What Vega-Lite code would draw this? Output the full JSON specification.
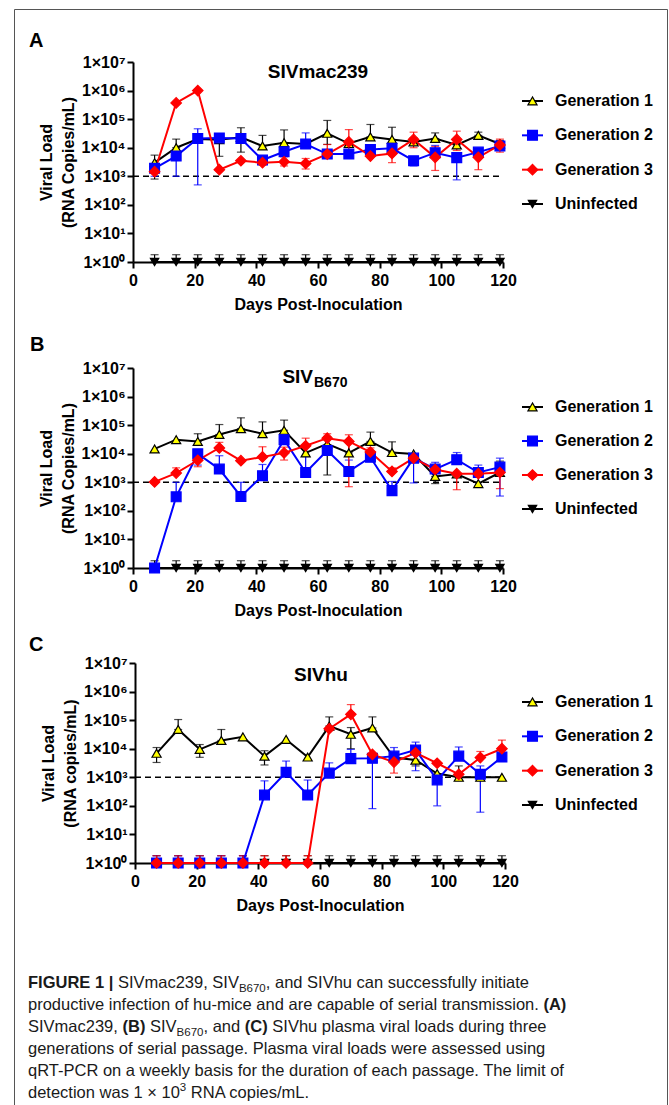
{
"$schema":"https://vega.github.io/schema/vega-lite/v6.json",
"width":653,"height":1100,
"autosize":{"type":"none"},
"padding":{"left":14,"top":9,"right":2,"bottom":0},
"background":"white",
"config":{"font":"Liberation Sans","view":{"stroke":"#555","strokeWidth":1},
 "axis":{"domainColor":"#000","domainWidth":2,"tickColor":"#000","tickWidth":2,"tickSize":6,"labelColor":"#000","labelFont":"Liberation Sans","labelFontWeight":"bold","labelFontSize":16,"titleColor":"#000","titleFont":"Liberation Sans","titleFontWeight":"bold","titleFontSize":16,"grid":false},
 "text":{"font":"Liberation Sans"}},
"datasets":{
"vals":[
{"p":"A","s":"U","d":7,"v":1},{"p":"A","s":"U","d":14,"v":1},{"p":"A","s":"U","d":21,"v":1},{"p":"A","s":"U","d":28,"v":1},{"p":"A","s":"U","d":35,"v":1},{"p":"A","s":"U","d":42,"v":1},{"p":"A","s":"U","d":49,"v":1},{"p":"A","s":"U","d":56,"v":1},{"p":"A","s":"U","d":63,"v":1},{"p":"A","s":"U","d":70,"v":1},{"p":"A","s":"U","d":77,"v":1},{"p":"A","s":"U","d":84,"v":1},{"p":"A","s":"U","d":91,"v":1},{"p":"A","s":"U","d":98,"v":1},{"p":"A","s":"U","d":105,"v":1},{"p":"A","s":"U","d":112,"v":1},{"p":"A","s":"U","d":119,"v":1},
{"p":"B","s":"U","d":7,"v":1},{"p":"B","s":"U","d":14,"v":1},{"p":"B","s":"U","d":21,"v":1},{"p":"B","s":"U","d":28,"v":1},{"p":"B","s":"U","d":35,"v":1},{"p":"B","s":"U","d":42,"v":1},{"p":"B","s":"U","d":49,"v":1},{"p":"B","s":"U","d":56,"v":1},{"p":"B","s":"U","d":63,"v":1},{"p":"B","s":"U","d":70,"v":1},{"p":"B","s":"U","d":77,"v":1},{"p":"B","s":"U","d":84,"v":1},{"p":"B","s":"U","d":91,"v":1},{"p":"B","s":"U","d":98,"v":1},{"p":"B","s":"U","d":105,"v":1},{"p":"B","s":"U","d":112,"v":1},{"p":"B","s":"U","d":119,"v":1},
{"p":"C","s":"U","d":7,"v":1},{"p":"C","s":"U","d":14,"v":1},{"p":"C","s":"U","d":21,"v":1},{"p":"C","s":"U","d":28,"v":1},{"p":"C","s":"U","d":35,"v":1},{"p":"C","s":"U","d":42,"v":1},{"p":"C","s":"U","d":49,"v":1},{"p":"C","s":"U","d":56,"v":1},{"p":"C","s":"U","d":63,"v":1},{"p":"C","s":"U","d":70,"v":1},{"p":"C","s":"U","d":77,"v":1},{"p":"C","s":"U","d":84,"v":1},{"p":"C","s":"U","d":91,"v":1},{"p":"C","s":"U","d":98,"v":1},{"p":"C","s":"U","d":105,"v":1},{"p":"C","s":"U","d":112,"v":1},{"p":"C","s":"U","d":119,"v":1},
{"p":"A","s":"G1","d":7,"v":3000},{"p":"A","s":"G1","d":14,"v":10000},{"p":"A","s":"G1","d":21,"v":20000},{"p":"A","s":"G1","d":28,"v":19000},{"p":"A","s":"G1","d":35,"v":23000},{"p":"A","s":"G1","d":42,"v":11500},{"p":"A","s":"G1","d":49,"v":15000},{"p":"A","s":"G1","d":56,"v":13500},{"p":"A","s":"G1","d":63,"v":32000},{"p":"A","s":"G1","d":70,"v":14000},{"p":"A","s":"G1","d":77,"v":24000},{"p":"A","s":"G1","d":84,"v":19500},{"p":"A","s":"G1","d":91,"v":16000},{"p":"A","s":"G1","d":98,"v":21000},{"p":"A","s":"G1","d":105,"v":12500},{"p":"A","s":"G1","d":112,"v":27000},{"p":"A","s":"G1","d":119,"v":13500},
{"p":"A","s":"G2","d":7,"v":1900},{"p":"A","s":"G2","d":14,"v":5100},{"p":"A","s":"G2","d":21,"v":21000},{"p":"A","s":"G2","d":28,"v":22000},{"p":"A","s":"G2","d":35,"v":21000},{"p":"A","s":"G2","d":42,"v":3700},{"p":"A","s":"G2","d":49,"v":7200},{"p":"A","s":"G2","d":56,"v":13500},{"p":"A","s":"G2","d":63,"v":6000},{"p":"A","s":"G2","d":70,"v":6000},{"p":"A","s":"G2","d":77,"v":8700},{"p":"A","s":"G2","d":84,"v":9500},{"p":"A","s":"G2","d":91,"v":3500},{"p":"A","s":"G2","d":98,"v":6700},{"p":"A","s":"G2","d":105,"v":4500},{"p":"A","s":"G2","d":112,"v":7000},{"p":"A","s":"G2","d":119,"v":11500},
{"p":"A","s":"G3","d":7,"v":1450},{"p":"A","s":"G3","d":14,"v":370000},{"p":"A","s":"G3","d":21,"v":1000000},{"p":"A","s":"G3","d":28,"v":1700},{"p":"A","s":"G3","d":35,"v":3500},{"p":"A","s":"G3","d":42,"v":3000},{"p":"A","s":"G3","d":49,"v":3200},{"p":"A","s":"G3","d":56,"v":2800},{"p":"A","s":"G3","d":63,"v":6000},{"p":"A","s":"G3","d":70,"v":16000},{"p":"A","s":"G3","d":77,"v":5100},{"p":"A","s":"G3","d":84,"v":6300},{"p":"A","s":"G3","d":91,"v":19500},{"p":"A","s":"G3","d":98,"v":4600},{"p":"A","s":"G3","d":105,"v":19500},{"p":"A","s":"G3","d":112,"v":4600},{"p":"A","s":"G3","d":119,"v":12500},
{"p":"B","s":"G1","d":7,"v":14700},{"p":"B","s":"G1","d":14,"v":31000},{"p":"B","s":"G1","d":21,"v":27000},{"p":"B","s":"G1","d":28,"v":47000},{"p":"B","s":"G1","d":35,"v":75000},{"p":"B","s":"G1","d":42,"v":50000},{"p":"B","s":"G1","d":49,"v":66000},{"p":"B","s":"G1","d":56,"v":10700},{"p":"B","s":"G1","d":63,"v":22000},{"p":"B","s":"G1","d":70,"v":10700},{"p":"B","s":"G1","d":77,"v":27000},{"p":"B","s":"G1","d":84,"v":11000},{"p":"B","s":"G1","d":91,"v":9800},{"p":"B","s":"G1","d":98,"v":1600},{"p":"B","s":"G1","d":105,"v":1950},{"p":"B","s":"G1","d":112,"v":900},{"p":"B","s":"G1","d":119,"v":2200},
{"p":"B","s":"G2","d":7,"v":1},{"p":"B","s":"G2","d":14,"v":310},{"p":"B","s":"G2","d":21,"v":10000},{"p":"B","s":"G2","d":28,"v":2900},{"p":"B","s":"G2","d":35,"v":320},{"p":"B","s":"G2","d":42,"v":1700},{"p":"B","s":"G2","d":49,"v":31000},{"p":"B","s":"G2","d":56,"v":2200},{"p":"B","s":"G2","d":63,"v":13000},{"p":"B","s":"G2","d":70,"v":2400},{"p":"B","s":"G2","d":77,"v":7500},{"p":"B","s":"G2","d":84,"v":510},{"p":"B","s":"G2","d":91,"v":7000},{"p":"B","s":"G2","d":98,"v":2900},{"p":"B","s":"G2","d":105,"v":6200},{"p":"B","s":"G2","d":112,"v":2200},{"p":"B","s":"G2","d":119,"v":3400},
{"p":"B","s":"G3","d":7,"v":1030},{"p":"B","s":"G3","d":14,"v":2100},{"p":"B","s":"G3","d":21,"v":5900},{"p":"B","s":"G3","d":28,"v":16000},{"p":"B","s":"G3","d":35,"v":5700},{"p":"B","s":"G3","d":42,"v":7700},{"p":"B","s":"G3","d":49,"v":10700},{"p":"B","s":"G3","d":56,"v":19000},{"p":"B","s":"G3","d":63,"v":35000},{"p":"B","s":"G3","d":70,"v":27000},{"p":"B","s":"G3","d":77,"v":11500},{"p":"B","s":"G3","d":84,"v":2400},{"p":"B","s":"G3","d":91,"v":7000},{"p":"B","s":"G3","d":98,"v":2800},{"p":"B","s":"G3","d":105,"v":2000},{"p":"B","s":"G3","d":112,"v":2000},{"p":"B","s":"G3","d":119,"v":2200},
{"p":"C","s":"G1","d":7,"v":6900},{"p":"C","s":"G1","d":14,"v":47000},{"p":"C","s":"G1","d":21,"v":9500},{"p":"C","s":"G1","d":28,"v":19500},{"p":"C","s":"G1","d":35,"v":26000},{"p":"C","s":"G1","d":42,"v":5500},{"p":"C","s":"G1","d":49,"v":21000},{"p":"C","s":"G1","d":56,"v":5100},{"p":"C","s":"G1","d":63,"v":62000},{"p":"C","s":"G1","d":70,"v":32000},{"p":"C","s":"G1","d":77,"v":53000},{"p":"C","s":"G1","d":84,"v":4900},{"p":"C","s":"G1","d":91,"v":4000},{"p":"C","s":"G1","d":98,"v":1350},{"p":"C","s":"G1","d":105,"v":1000},{"p":"C","s":"G1","d":112,"v":1000},{"p":"C","s":"G1","d":119,"v":1000},
{"p":"C","s":"G2","d":7,"v":1},{"p":"C","s":"G2","d":14,"v":1},{"p":"C","s":"G2","d":21,"v":1},{"p":"C","s":"G2","d":28,"v":1},{"p":"C","s":"G2","d":35,"v":1},{"p":"C","s":"G2","d":42,"v":240},{"p":"C","s":"G2","d":49,"v":1500},{"p":"C","s":"G2","d":56,"v":240},{"p":"C","s":"G2","d":63,"v":1400},{"p":"C","s":"G2","d":70,"v":4500},{"p":"C","s":"G2","d":77,"v":4600},{"p":"C","s":"G2","d":84,"v":5500},{"p":"C","s":"G2","d":91,"v":9000},{"p":"C","s":"G2","d":98,"v":810},{"p":"C","s":"G2","d":105,"v":5500},{"p":"C","s":"G2","d":112,"v":1270},{"p":"C","s":"G2","d":119,"v":5100},
{"p":"C","s":"G3","d":7,"v":1},{"p":"C","s":"G3","d":14,"v":1},{"p":"C","s":"G3","d":21,"v":1},{"p":"C","s":"G3","d":28,"v":1},{"p":"C","s":"G3","d":35,"v":1},{"p":"C","s":"G3","d":42,"v":1},{"p":"C","s":"G3","d":49,"v":1},{"p":"C","s":"G3","d":56,"v":1},{"p":"C","s":"G3","d":63,"v":50000},{"p":"C","s":"G3","d":70,"v":160000},{"p":"C","s":"G3","d":77,"v":6300},{"p":"C","s":"G3","d":84,"v":3400},{"p":"C","s":"G3","d":91,"v":7200},{"p":"C","s":"G3","d":98,"v":3100},{"p":"C","s":"G3","d":105,"v":1270},{"p":"C","s":"G3","d":112,"v":4900},{"p":"C","s":"G3","d":119,"v":10000}
],
"errs":[
{"p":"A","s":"U","d":7,"lo":1,"hi":1.8},{"p":"A","s":"U","d":14,"lo":1,"hi":1.8},{"p":"A","s":"U","d":21,"lo":1,"hi":1.8},{"p":"A","s":"U","d":28,"lo":1,"hi":1.8},{"p":"A","s":"U","d":35,"lo":1,"hi":1.8},{"p":"A","s":"U","d":42,"lo":1,"hi":1.8},{"p":"A","s":"U","d":49,"lo":1,"hi":1.8},{"p":"A","s":"U","d":56,"lo":1,"hi":1.8},{"p":"A","s":"U","d":63,"lo":1,"hi":1.8},{"p":"A","s":"U","d":70,"lo":1,"hi":1.8},{"p":"A","s":"U","d":77,"lo":1,"hi":1.8},{"p":"A","s":"U","d":84,"lo":1,"hi":1.8},{"p":"A","s":"U","d":91,"lo":1,"hi":1.8},{"p":"A","s":"U","d":98,"lo":1,"hi":1.8},{"p":"A","s":"U","d":105,"lo":1,"hi":1.8},{"p":"A","s":"U","d":112,"lo":1,"hi":1.8},{"p":"A","s":"U","d":119,"lo":1,"hi":1.8},
{"p":"B","s":"U","d":7,"lo":1,"hi":1.8},{"p":"B","s":"U","d":14,"lo":1,"hi":1.8},{"p":"B","s":"U","d":21,"lo":1,"hi":1.8},{"p":"B","s":"U","d":28,"lo":1,"hi":1.8},{"p":"B","s":"U","d":35,"lo":1,"hi":1.8},{"p":"B","s":"U","d":42,"lo":1,"hi":1.8},{"p":"B","s":"U","d":49,"lo":1,"hi":1.8},{"p":"B","s":"U","d":56,"lo":1,"hi":1.8},{"p":"B","s":"U","d":63,"lo":1,"hi":1.8},{"p":"B","s":"U","d":70,"lo":1,"hi":1.8},{"p":"B","s":"U","d":77,"lo":1,"hi":1.8},{"p":"B","s":"U","d":84,"lo":1,"hi":1.8},{"p":"B","s":"U","d":91,"lo":1,"hi":1.8},{"p":"B","s":"U","d":98,"lo":1,"hi":1.8},{"p":"B","s":"U","d":105,"lo":1,"hi":1.8},{"p":"B","s":"U","d":112,"lo":1,"hi":1.8},{"p":"B","s":"U","d":119,"lo":1,"hi":1.8},
{"p":"C","s":"U","d":7,"lo":1,"hi":1.8},{"p":"C","s":"U","d":14,"lo":1,"hi":1.8},{"p":"C","s":"U","d":21,"lo":1,"hi":1.8},{"p":"C","s":"U","d":28,"lo":1,"hi":1.8},{"p":"C","s":"U","d":35,"lo":1,"hi":1.8},{"p":"C","s":"U","d":42,"lo":1,"hi":1.8},{"p":"C","s":"U","d":49,"lo":1,"hi":1.8},{"p":"C","s":"U","d":56,"lo":1,"hi":1.8},{"p":"C","s":"U","d":63,"lo":1,"hi":1.8},{"p":"C","s":"U","d":70,"lo":1,"hi":1.8},{"p":"C","s":"U","d":77,"lo":1,"hi":1.8},{"p":"C","s":"U","d":84,"lo":1,"hi":1.8},{"p":"C","s":"U","d":91,"lo":1,"hi":1.8},{"p":"C","s":"U","d":98,"lo":1,"hi":1.8},{"p":"C","s":"U","d":105,"lo":1,"hi":1.8},{"p":"C","s":"U","d":112,"lo":1,"hi":1.8},{"p":"C","s":"U","d":119,"lo":1,"hi":1.8},
{"p":"A","s":"G1","d":7,"lo":800,"hi":5500},{"p":"A","s":"G1","d":14,"lo":10000,"hi":20000},{"p":"A","s":"G1","d":21,"lo":20000,"hi":25000},{"p":"A","s":"G1","d":28,"lo":5000,"hi":25000},{"p":"A","s":"G1","d":35,"lo":7000,"hi":50000},{"p":"A","s":"G1","d":42,"lo":11500,"hi":27000},{"p":"A","s":"G1","d":49,"lo":15000,"hi":42000},{"p":"A","s":"G1","d":56,"lo":13500,"hi":16000},{"p":"A","s":"G1","d":63,"lo":13000,"hi":90000},{"p":"A","s":"G1","d":77,"lo":24000,"hi":65000},{"p":"A","s":"G1","d":84,"lo":13000,"hi":52000},{"p":"A","s":"G1","d":91,"lo":16000,"hi":22000},{"p":"A","s":"G1","d":98,"lo":21000,"hi":33000},{"p":"A","s":"G1","d":105,"lo":10000,"hi":12500},{"p":"A","s":"G1","d":112,"lo":27000,"hi":35000},{"p":"A","s":"G1","d":119,"lo":13500,"hi":18000},
{"p":"A","s":"G2","d":7,"lo":1000,"hi":1900},{"p":"A","s":"G2","d":14,"lo":1000,"hi":5100},{"p":"A","s":"G2","d":21,"lo":500,"hi":46000},{"p":"A","s":"G2","d":42,"lo":3000,"hi":3700},{"p":"A","s":"G2","d":49,"lo":5000,"hi":10000},{"p":"A","s":"G2","d":56,"lo":13500,"hi":33000},{"p":"A","s":"G2","d":91,"lo":2300,"hi":3500},{"p":"A","s":"G2","d":98,"lo":6700,"hi":12000},{"p":"A","s":"G2","d":105,"lo":750,"hi":4500},{"p":"A","s":"G2","d":119,"lo":11500,"hi":16000},
{"p":"A","s":"G3","d":42,"lo":2500,"hi":3000},{"p":"A","s":"G3","d":49,"lo":2300,"hi":4800},{"p":"A","s":"G3","d":56,"lo":1800,"hi":4200},{"p":"A","s":"G3","d":63,"lo":6000,"hi":13000},{"p":"A","s":"G3","d":70,"lo":8000,"hi":43000},{"p":"A","s":"G3","d":77,"lo":5100,"hi":7000},{"p":"A","s":"G3","d":84,"lo":3000,"hi":8000},{"p":"A","s":"G3","d":91,"lo":10000,"hi":35000},{"p":"A","s":"G3","d":98,"lo":1600,"hi":11000},{"p":"A","s":"G3","d":105,"lo":8000,"hi":38000},{"p":"A","s":"G3","d":112,"lo":1700,"hi":9000},{"p":"A","s":"G3","d":119,"lo":7000,"hi":20000},
{"p":"B","s":"G1","d":21,"lo":27000,"hi":50000},{"p":"B","s":"G1","d":28,"lo":47000,"hi":105000},{"p":"B","s":"G1","d":35,"lo":75000,"hi":180000},{"p":"B","s":"G1","d":42,"lo":50000,"hi":130000},{"p":"B","s":"G1","d":49,"lo":66000,"hi":150000},{"p":"B","s":"G1","d":63,"lo":1800,"hi":40000},{"p":"B","s":"G1","d":70,"lo":10700,"hi":25000},{"p":"B","s":"G1","d":77,"lo":27000,"hi":57000},{"p":"B","s":"G1","d":84,"lo":11000,"hi":26000},{"p":"B","s":"G1","d":98,"lo":900,"hi":1600},{"p":"B","s":"G1","d":119,"lo":2200,"hi":5500},
{"p":"B","s":"G2","d":14,"lo":310,"hi":1000},{"p":"B","s":"G2","d":21,"lo":4000,"hi":10000},{"p":"B","s":"G2","d":28,"lo":2900,"hi":8500},{"p":"B","s":"G2","d":35,"lo":320,"hi":1000},{"p":"B","s":"G2","d":42,"lo":1700,"hi":4200},{"p":"B","s":"G2","d":56,"lo":2200,"hi":8000},{"p":"B","s":"G2","d":70,"lo":2400,"hi":6000},{"p":"B","s":"G2","d":77,"lo":7500,"hi":11000},{"p":"B","s":"G2","d":84,"lo":510,"hi":1070},{"p":"B","s":"G2","d":91,"lo":950,"hi":7000},{"p":"B","s":"G2","d":98,"lo":2900,"hi":5000},{"p":"B","s":"G2","d":105,"lo":6200,"hi":11000},{"p":"B","s":"G2","d":112,"lo":2200,"hi":4000},{"p":"B","s":"G2","d":119,"lo":330,"hi":7000},
{"p":"B","s":"G3","d":14,"lo":2100,"hi":3200},{"p":"B","s":"G3","d":21,"lo":3500,"hi":5900},{"p":"B","s":"G3","d":28,"lo":16000,"hi":25000},{"p":"B","s":"G3","d":42,"lo":7700,"hi":17500},{"p":"B","s":"G3","d":49,"lo":6000,"hi":17000},{"p":"B","s":"G3","d":56,"lo":19000,"hi":35000},{"p":"B","s":"G3","d":63,"lo":35000,"hi":50000},{"p":"B","s":"G3","d":70,"lo":700,"hi":46000},{"p":"B","s":"G3","d":77,"lo":11500,"hi":16000},{"p":"B","s":"G3","d":84,"lo":2400,"hi":3200},{"p":"B","s":"G3","d":105,"lo":550,"hi":2000},{"p":"B","s":"G3","d":119,"lo":600,"hi":2200},
{"p":"C","s":"G1","d":7,"lo":3300,"hi":11000},{"p":"C","s":"G1","d":14,"lo":47000,"hi":105000},{"p":"C","s":"G1","d":21,"lo":5000,"hi":14000},{"p":"C","s":"G1","d":28,"lo":19500,"hi":47000},{"p":"C","s":"G1","d":42,"lo":2700,"hi":8500},{"p":"C","s":"G1","d":63,"lo":62000,"hi":130000},{"p":"C","s":"G1","d":70,"lo":10000,"hi":55000},{"p":"C","s":"G1","d":77,"lo":53000,"hi":130000},{"p":"C","s":"G1","d":91,"lo":2500,"hi":4000},{"p":"C","s":"G1","d":105,"lo":1000,"hi":2500},
{"p":"C","s":"G2","d":7,"lo":1,"hi":1.8},{"p":"C","s":"G2","d":14,"lo":1,"hi":1.8},{"p":"C","s":"G2","d":21,"lo":1,"hi":1.8},{"p":"C","s":"G2","d":28,"lo":1,"hi":1.8},{"p":"C","s":"G2","d":35,"lo":1,"hi":1.8},{"p":"C","s":"G2","d":42,"lo":240,"hi":750},{"p":"C","s":"G2","d":49,"lo":1500,"hi":3700},{"p":"C","s":"G2","d":56,"lo":240,"hi":800},{"p":"C","s":"G2","d":63,"lo":1400,"hi":3200},{"p":"C","s":"G2","d":70,"lo":4500,"hi":9500},{"p":"C","s":"G2","d":77,"lo":80,"hi":4600},{"p":"C","s":"G2","d":84,"lo":5500,"hi":11000},{"p":"C","s":"G2","d":91,"lo":1700,"hi":17000},{"p":"C","s":"G2","d":98,"lo":100,"hi":810},{"p":"C","s":"G2","d":105,"lo":5500,"hi":11500},{"p":"C","s":"G2","d":112,"lo":60,"hi":2500},
{"p":"C","s":"G3","d":7,"lo":1,"hi":1.8},{"p":"C","s":"G3","d":14,"lo":1,"hi":1.8},{"p":"C","s":"G3","d":21,"lo":1,"hi":1.8},{"p":"C","s":"G3","d":28,"lo":1,"hi":1.8},{"p":"C","s":"G3","d":35,"lo":1,"hi":1.8},{"p":"C","s":"G3","d":42,"lo":1,"hi":1.8},{"p":"C","s":"G3","d":49,"lo":1,"hi":1.8},{"p":"C","s":"G3","d":56,"lo":1,"hi":1.8},{"p":"C","s":"G3","d":70,"lo":160000,"hi":350000},{"p":"C","s":"G3","d":84,"lo":1400,"hi":3400},{"p":"C","s":"G3","d":112,"lo":4900,"hi":8000},{"p":"C","s":"G3","d":119,"lo":10000,"hi":20000}
],
"legend":[{"s":"G1","label":"Generation 1"},{"s":"G2","label":"Generation 2"},{"s":"G3","label":"Generation 3"},{"s":"U","label":"Uninfected"}]
},
"layer":[
 {"layer":[
  {"data":{"values":[{"lod":1000}]},"mark":{"type":"rule","strokeDash":[6,4],"strokeWidth":1.5,"color":"#000"},
   "encoding":{
    "x":{"datum":0,"type":"quantitative","scale":{"domain":[0,120],"range":[119,489],"nice":false,"zero":false},"axis":{"orient":"bottom","values":[0,20,40,60,80,100,120],"title":"Days Post-Inoculation","offset":-847,"labelPadding":4,"titlePadding":8,"labelFlush":false}},
    "x2":{"datum":120},
    "y":{"field":"lod","type":"quantitative","title":["Viral Load","(RNA Copies/mL)"],"scale":{"type":"log","domain":[1,10000000],"range":[253,53],"nice":false},"axis":{"orient":"left","values":[1,10,100,1000,10000,100000,1000000,10000000],"labelExpr":"'1×10' + ['⁰','¹','²','³','⁴','⁵','⁶','⁷'][round(log(datum.value)/LN10)]","titleLineHeight":22,"titlePadding":5,"labelPadding":2,"offset":-119}}}},
  {"data":{"name":"errs"},"transform":[{"filter":"datum.p=='A'"}],"mark":{"type":"errorbar","ticks":{"size":8},"thickness":1.2},
   "encoding":{"x":{"field":"d","type":"quantitative","title":"Days Post-Inoculation"},"y":{"field":"lo","type":"quantitative","title":["Viral Load","(RNA Copies/mL)"]},"y2":{"field":"hi"},"color":{"field":"s","type":"nominal","scale":{"domain":["U","G1","G2","G3"],"range":["#000000","#000000","#0000ff","#ff0000"]},"legend":null}}},
  {"data":{"name":"vals"},"transform":[{"filter":"datum.p=='A'"}],"mark":{"type":"line","strokeWidth":2},
   "encoding":{"x":{"field":"d","type":"quantitative","title":"Days Post-Inoculation"},"y":{"field":"v","type":"quantitative","title":["Viral Load","(RNA Copies/mL)"]},"color":{"field":"s","type":"nominal","legend":null}}},
  {"data":{"name":"vals"},"transform":[{"filter":"datum.p=='A'"}],"mark":{"type":"point","filled":true,"strokeWidth":1.2,"opacity":1},
   "encoding":{"x":{"field":"d","type":"quantitative","title":"Days Post-Inoculation"},"y":{"field":"v","type":"quantitative","title":["Viral Load","(RNA Copies/mL)"]},
    "shape":{"field":"s","type":"nominal","scale":{"domain":["U","G1","G2","G3"],"range":["triangle-down","triangle-up","square","diamond"]},"legend":null},
    "fill":{"field":"s","type":"nominal","scale":{"domain":["U","G1","G2","G3"],"range":["#000000","#ffff00","#0000ff","#ff0000"]},"legend":null},
    "stroke":{"field":"s","type":"nominal","scale":{"domain":["U","G1","G2","G3"],"range":["#000000","#000000","#0000ff","#ff0000"]},"legend":null},
    "size":{"field":"s","type":"nominal","scale":{"domain":["U","G1","G2","G3"],"range":[70,110,90,60]},"legend":null}}}
 ]},
 {"layer":[
  {"data":{"values":[{"lod":1000}]},"mark":{"type":"rule","strokeDash":[6,4],"strokeWidth":1.5,"color":"#000"},
   "encoding":{
    "x":{"datum":0,"type":"quantitative","scale":{"domain":[0,120],"range":[119,489],"nice":false,"zero":false},"axis":{"orient":"bottom","values":[0,20,40,60,80,100,120],"title":"Days Post-Inoculation","offset":-541,"labelPadding":4,"titlePadding":8,"labelFlush":false}},
    "x2":{"datum":120},
    "y":{"field":"lod","type":"quantitative","title":["Viral Load","(RNA Copies/mL)"],"scale":{"type":"log","domain":[1,10000000],"range":[559,359],"nice":false},"axis":{"orient":"left","values":[1,10,100,1000,10000,100000,1000000,10000000],"labelExpr":"'1×10' + ['⁰','¹','²','³','⁴','⁵','⁶','⁷'][round(log(datum.value)/LN10)]","titleLineHeight":22,"titlePadding":5,"labelPadding":2,"offset":-119}}}},
  {"data":{"name":"errs"},"transform":[{"filter":"datum.p=='B'"}],"mark":{"type":"errorbar","ticks":{"size":8},"thickness":1.2},
   "encoding":{"x":{"field":"d","type":"quantitative","title":"Days Post-Inoculation"},"y":{"field":"lo","type":"quantitative","title":["Viral Load","(RNA Copies/mL)"]},"y2":{"field":"hi"},"color":{"field":"s","type":"nominal","scale":{"domain":["U","G1","G2","G3"],"range":["#000000","#000000","#0000ff","#ff0000"]},"legend":null}}},
  {"data":{"name":"vals"},"transform":[{"filter":"datum.p=='B'"}],"mark":{"type":"line","strokeWidth":2},
   "encoding":{"x":{"field":"d","type":"quantitative","title":"Days Post-Inoculation"},"y":{"field":"v","type":"quantitative","title":["Viral Load","(RNA Copies/mL)"]},"color":{"field":"s","type":"nominal","legend":null}}},
  {"data":{"name":"vals"},"transform":[{"filter":"datum.p=='B'"}],"mark":{"type":"point","filled":true,"strokeWidth":1.2,"opacity":1},
   "encoding":{"x":{"field":"d","type":"quantitative","title":"Days Post-Inoculation"},"y":{"field":"v","type":"quantitative","title":["Viral Load","(RNA Copies/mL)"]},
    "shape":{"field":"s","type":"nominal","scale":{"domain":["U","G1","G2","G3"],"range":["triangle-down","triangle-up","square","diamond"]},"legend":null},
    "fill":{"field":"s","type":"nominal","scale":{"domain":["U","G1","G2","G3"],"range":["#000000","#ffff00","#0000ff","#ff0000"]},"legend":null},
    "stroke":{"field":"s","type":"nominal","scale":{"domain":["U","G1","G2","G3"],"range":["#000000","#000000","#0000ff","#ff0000"]},"legend":null},
    "size":{"field":"s","type":"nominal","scale":{"domain":["U","G1","G2","G3"],"range":[70,110,90,60]},"legend":null}}}
 ]},
 {"layer":[
  {"data":{"values":[{"lod":1000}]},"mark":{"type":"rule","strokeDash":[6,4],"strokeWidth":1.5,"color":"#000"},
   "encoding":{
    "x":{"datum":0,"type":"quantitative","scale":{"domain":[0,120],"range":[121,491],"nice":false,"zero":false},"axis":{"orient":"bottom","values":[0,20,40,60,80,100,120],"title":"Days Post-Inoculation","offset":-246,"labelPadding":4,"titlePadding":8,"labelFlush":false}},
    "x2":{"datum":120},
    "y":{"field":"lod","type":"quantitative","title":["Viral Load","(RNA copies/mL)"],"scale":{"type":"log","domain":[1,10000000],"range":[854,654],"nice":false},"axis":{"orient":"left","values":[1,10,100,1000,10000,100000,1000000,10000000],"labelExpr":"'1×10' + ['⁰','¹','²','³','⁴','⁵','⁶','⁷'][round(log(datum.value)/LN10)]","titleLineHeight":22,"titlePadding":5,"labelPadding":2,"offset":-121}}}},
  {"data":{"name":"errs"},"transform":[{"filter":"datum.p=='C'"}],"mark":{"type":"errorbar","ticks":{"size":8},"thickness":1.2},
   "encoding":{"x":{"field":"d","type":"quantitative","title":"Days Post-Inoculation"},"y":{"field":"lo","type":"quantitative","title":["Viral Load","(RNA copies/mL)"]},"y2":{"field":"hi"},"color":{"field":"s","type":"nominal","scale":{"domain":["U","G1","G2","G3"],"range":["#000000","#000000","#0000ff","#ff0000"]},"legend":null}}},
  {"data":{"name":"vals"},"transform":[{"filter":"datum.p=='C'"}],"mark":{"type":"line","strokeWidth":2},
   "encoding":{"x":{"field":"d","type":"quantitative","title":"Days Post-Inoculation"},"y":{"field":"v","type":"quantitative","title":["Viral Load","(RNA copies/mL)"]},"color":{"field":"s","type":"nominal","legend":null}}},
  {"data":{"name":"vals"},"transform":[{"filter":"datum.p=='C'"}],"mark":{"type":"point","filled":true,"strokeWidth":1.2,"opacity":1},
   "encoding":{"x":{"field":"d","type":"quantitative","title":"Days Post-Inoculation"},"y":{"field":"v","type":"quantitative","title":["Viral Load","(RNA copies/mL)"]},
    "shape":{"field":"s","type":"nominal","scale":{"domain":["U","G1","G2","G3"],"range":["triangle-down","triangle-up","square","diamond"]},"legend":null},
    "fill":{"field":"s","type":"nominal","scale":{"domain":["U","G1","G2","G3"],"range":["#000000","#ffff00","#0000ff","#ff0000"]},"legend":null},
    "stroke":{"field":"s","type":"nominal","scale":{"domain":["U","G1","G2","G3"],"range":["#000000","#000000","#0000ff","#ff0000"]},"legend":null},
    "size":{"field":"s","type":"nominal","scale":{"domain":["U","G1","G2","G3"],"range":[70,110,90,60]},"legend":null}}}
 ]},
 {"data":{"name":"legend"},
  "encoding":{"y":{"field":"s","type":"nominal","scale":{"type":"point","domain":["G1","G2","G3","U"],"range":[92,195],"padding":0},"axis":null}},
  "layer":[
   {"mark":{"type":"rule","strokeWidth":2},"encoding":{"x":{"datum":508,"type":"quantitative","scale":{"domain":[0,653],"range":[0,653],"nice":false,"zero":false},"axis":null},"x2":{"datum":529},"color":{"field":"s","type":"nominal","legend":null}}},
   {"mark":{"type":"point","filled":true,"strokeWidth":1.2,"opacity":1},"encoding":{"x":{"datum":518.5,"type":"quantitative"},"shape":{"field":"s","type":"nominal","legend":null},"fill":{"field":"s","type":"nominal","legend":null},"stroke":{"field":"s","type":"nominal","legend":null},"size":{"field":"s","type":"nominal","legend":null}}},
   {"mark":{"type":"text","align":"left","baseline":"middle","fontSize":16,"fontWeight":"bold","color":"#000"},"encoding":{"x":{"datum":541,"type":"quantitative"},"text":{"field":"label"}}}
  ]},
 {"data":{"name":"legend"},
  "encoding":{"y":{"field":"s","type":"nominal","scale":{"type":"point","domain":["G1","G2","G3","U"],"range":[398,500],"padding":0},"axis":null}},
  "layer":[
   {"mark":{"type":"rule","strokeWidth":2},"encoding":{"x":{"datum":508,"type":"quantitative","scale":{"domain":[0,653],"range":[0,653],"nice":false,"zero":false},"axis":null},"x2":{"datum":529},"color":{"field":"s","type":"nominal","legend":null}}},
   {"mark":{"type":"point","filled":true,"strokeWidth":1.2,"opacity":1},"encoding":{"x":{"datum":518.5,"type":"quantitative"},"shape":{"field":"s","type":"nominal","legend":null},"fill":{"field":"s","type":"nominal","legend":null},"stroke":{"field":"s","type":"nominal","legend":null},"size":{"field":"s","type":"nominal","legend":null}}},
   {"mark":{"type":"text","align":"left","baseline":"middle","fontSize":16,"fontWeight":"bold","color":"#000"},"encoding":{"x":{"datum":541,"type":"quantitative"},"text":{"field":"label"}}}
  ]},
 {"data":{"name":"legend"},
  "encoding":{"y":{"field":"s","type":"nominal","scale":{"type":"point","domain":["G1","G2","G3","U"],"range":[693,796],"padding":0},"axis":null}},
  "layer":[
   {"mark":{"type":"rule","strokeWidth":2},"encoding":{"x":{"datum":508,"type":"quantitative","scale":{"domain":[0,653],"range":[0,653],"nice":false,"zero":false},"axis":null},"x2":{"datum":529},"color":{"field":"s","type":"nominal","legend":null}}},
   {"mark":{"type":"point","filled":true,"strokeWidth":1.2,"opacity":1},"encoding":{"x":{"datum":518.5,"type":"quantitative"},"shape":{"field":"s","type":"nominal","legend":null},"fill":{"field":"s","type":"nominal","legend":null},"stroke":{"field":"s","type":"nominal","legend":null},"size":{"field":"s","type":"nominal","legend":null}}},
   {"mark":{"type":"text","align":"left","baseline":"middle","fontSize":16,"fontWeight":"bold","color":"#000"},"encoding":{"x":{"datum":541,"type":"quantitative"},"text":{"field":"label"}}}
  ]},
 {"layer":[
  {"data":{"values":[{"t":"A"}]},"mark":{"type":"text","align":"left","baseline":"middle","fontSize":20,"fontWeight":"bold","color":"#000"},"encoding":{"x":{"datum":15,"type":"quantitative","scale":{"domain":[0,653],"range":[0,653],"nice":false,"zero":false},"axis":null},"y":{"datum":32,"type":"quantitative","scale":{"domain":[0,1100],"range":[0,1100],"nice":false,"zero":false},"axis":null},"text":{"field":"t"}}},
  {"data":{"values":[{"t":"B"}]},"mark":{"type":"text","align":"left","baseline":"middle","fontSize":20,"fontWeight":"bold","color":"#000"},"encoding":{"x":{"datum":16},"y":{"datum":336},"text":{"field":"t"}}},
  {"data":{"values":[{"t":"C"}]},"mark":{"type":"text","align":"left","baseline":"middle","fontSize":20,"fontWeight":"bold","color":"#000"},"encoding":{"x":{"datum":15},"y":{"datum":636},"text":{"field":"t"}}},
  {"data":{"values":[{"t":"SIVmac239"}]},"mark":{"type":"text","align":"center","baseline":"middle","fontSize":19,"fontWeight":"bold","color":"#000"},"encoding":{"x":{"datum":304},"y":{"datum":63},"text":{"field":"t"}}},
  {"data":{"values":[{"t":"SIV"}]},"mark":{"type":"text","align":"right","baseline":"middle","fontSize":19,"fontWeight":"bold","color":"#000"},"encoding":{"x":{"datum":299},"y":{"datum":368},"text":{"field":"t"}}},
  {"data":{"values":[{"t":"B670"}]},"mark":{"type":"text","align":"left","baseline":"middle","fontSize":14,"fontWeight":"bold","color":"#000"},"encoding":{"x":{"datum":300},"y":{"datum":374},"text":{"field":"t"}}},
  {"data":{"values":[{"t":"SIVhu"}]},"mark":{"type":"text","align":"center","baseline":"middle","fontSize":19,"fontWeight":"bold","color":"#000"},"encoding":{"x":{"datum":307},"y":{"datum":666},"text":{"field":"t"}}},
  {"data":{"values":[{"t":"FIGURE 1 |"}]},"mark":{"type":"text","align":"left","baseline":"alphabetic","fontSize":16.5,"fontWeight":"bold","color":"#1a1a1a"},"encoding":{"x":{"datum":14},"y":{"datum":979},"text":{"field":"t"}}},
  {"data":{"values":[{"t":"SIVmac239, SIV"}]},"mark":{"type":"text","align":"left","baseline":"alphabetic","fontSize":16.5,"color":"#1a1a1a"},"encoding":{"x":{"datum":103.9},"y":{"datum":979},"text":{"field":"t"}}},
  {"data":{"values":[{"t":"B670"}]},"mark":{"type":"text","align":"left","baseline":"alphabetic","fontSize":11.5,"color":"#1a1a1a"},"encoding":{"x":{"datum":224.9},"y":{"datum":983},"text":{"field":"t"}}},
  {"data":{"values":[{"t":", and SIVhu can successfully initiate"}]},"mark":{"type":"text","align":"left","baseline":"alphabetic","fontSize":16.5,"color":"#1a1a1a"},"encoding":{"x":{"datum":251.8},"y":{"datum":979},"text":{"field":"t"}}},
  {"data":{"values":[{"t":"productive infection of hu-mice and are capable of serial transmission."}]},"mark":{"type":"text","align":"left","baseline":"alphabetic","fontSize":16.5,"color":"#1a1a1a"},"encoding":{"x":{"datum":14},"y":{"datum":1001},"text":{"field":"t"}}},
  {"data":{"values":[{"t":"(A)"}]},"mark":{"type":"text","align":"left","baseline":"alphabetic","fontSize":16.5,"fontWeight":"bold","color":"#1a1a1a"},"encoding":{"x":{"datum":529.4},"y":{"datum":1001},"text":{"field":"t"}}},
  {"data":{"values":[{"t":"SIVmac239,"}]},"mark":{"type":"text","align":"left","baseline":"alphabetic","fontSize":16.5,"color":"#1a1a1a"},"encoding":{"x":{"datum":14},"y":{"datum":1023},"text":{"field":"t"}}},
  {"data":{"values":[{"t":"(B)"}]},"mark":{"type":"text","align":"left","baseline":"alphabetic","fontSize":16.5,"fontWeight":"bold","color":"#1a1a1a"},"encoding":{"x":{"datum":108.5},"y":{"datum":1023},"text":{"field":"t"}}},
  {"data":{"values":[{"t":"SIV"}]},"mark":{"type":"text","align":"left","baseline":"alphabetic","fontSize":16.5,"color":"#1a1a1a"},"encoding":{"x":{"datum":136.0},"y":{"datum":1023},"text":{"field":"t"}}},
  {"data":{"values":[{"t":"B670"}]},"mark":{"type":"text","align":"left","baseline":"alphabetic","fontSize":11.5,"color":"#1a1a1a"},"encoding":{"x":{"datum":162.6},"y":{"datum":1027},"text":{"field":"t"}}},
  {"data":{"values":[{"t":", and"}]},"mark":{"type":"text","align":"left","baseline":"alphabetic","fontSize":16.5,"color":"#1a1a1a"},"encoding":{"x":{"datum":189.5},"y":{"datum":1023},"text":{"field":"t"}}},
  {"data":{"values":[{"t":"(C)"}]},"mark":{"type":"text","align":"left","baseline":"alphabetic","fontSize":16.5,"fontWeight":"bold","color":"#1a1a1a"},"encoding":{"x":{"datum":230.8},"y":{"datum":1023},"text":{"field":"t"}}},
  {"data":{"values":[{"t":"SIVhu plasma viral loads during three"}]},"mark":{"type":"text","align":"left","baseline":"alphabetic","fontSize":16.5,"color":"#1a1a1a"},"encoding":{"x":{"datum":258.3},"y":{"datum":1023},"text":{"field":"t"}}},
  {"data":{"values":[{"t":"generations of serial passage. Plasma viral loads were assessed using"}]},"mark":{"type":"text","align":"left","baseline":"alphabetic","fontSize":16.5,"color":"#1a1a1a"},"encoding":{"x":{"datum":14},"y":{"datum":1045},"text":{"field":"t"}}},
  {"data":{"values":[{"t":"qRT-PCR on a weekly basis for the duration of each passage. The limit of"}]},"mark":{"type":"text","align":"left","baseline":"alphabetic","fontSize":16.5,"color":"#1a1a1a"},"encoding":{"x":{"datum":14},"y":{"datum":1067},"text":{"field":"t"}}},
  {"data":{"values":[{"t":"detection was 1 × 10"}]},"mark":{"type":"text","align":"left","baseline":"alphabetic","fontSize":16.5,"color":"#1a1a1a"},"encoding":{"x":{"datum":14},"y":{"datum":1089},"text":{"field":"t"}}},
  {"data":{"values":[{"t":"3"}]},"mark":{"type":"text","align":"left","baseline":"alphabetic","fontSize":11.5,"color":"#1a1a1a"},"encoding":{"x":{"datum":165.8},"y":{"datum":1082},"text":{"field":"t"}}},
  {"data":{"values":[{"t":"RNA copies/mL."}]},"mark":{"type":"text","align":"left","baseline":"alphabetic","fontSize":16.5,"color":"#1a1a1a"},"encoding":{"x":{"datum":176.8},"y":{"datum":1089},"text":{"field":"t"}}}
 ]}
],
"resolve":{"scale":{"x":"independent","y":"independent"},"axis":{"x":"independent","y":"independent"}}
}
